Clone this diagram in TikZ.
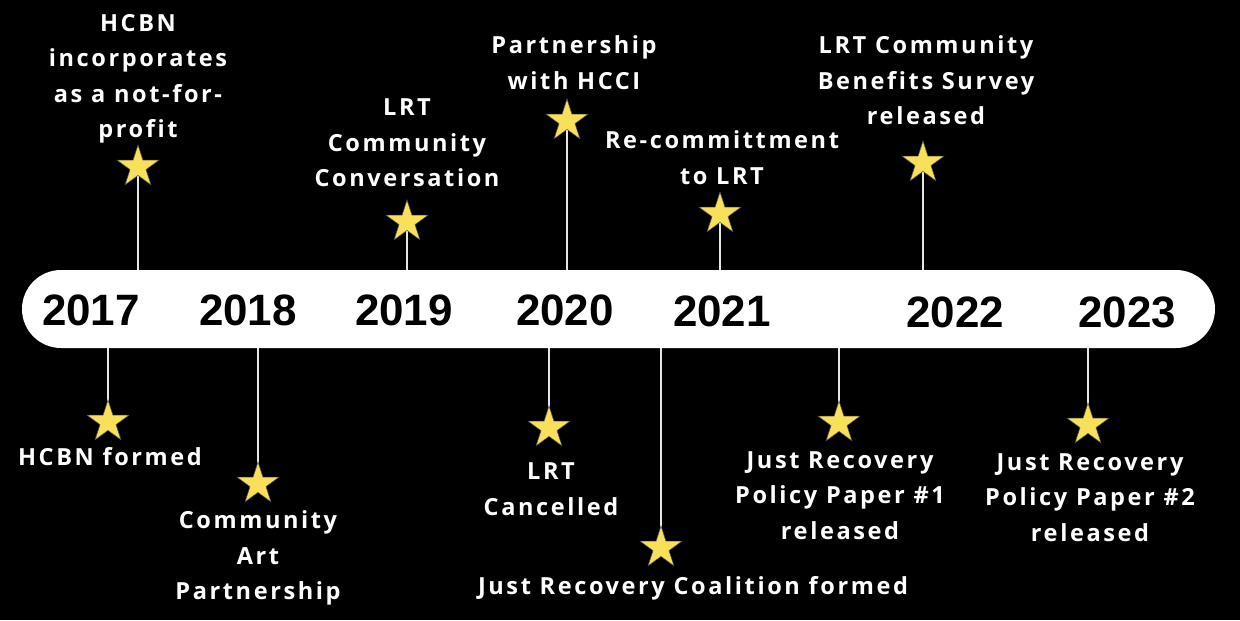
\documentclass[tikz,border=0pt]{standalone}
\usepackage{fontspec}
\setmainfont{Open Sans}[LetterSpace=11, Ligatures={NoCommon}]
\newfontfamily\yrfont{Liberation Sans}
\usepackage{xcolor}
\usepackage{tikz}
\usetikzlibrary{positioning,shapes.geometric,backgrounds}
\definecolor{staryellow}{HTML}{F9E05B}
\definecolor{linegray}{HTML}{E6E6E6}

\begin{document}
\begin{tikzpicture}[
				barbox/.style={draw=none, fill=white, rectangle, rounded corners=0.78cm,
						minimum width=23.86cm, minimum height=1.56cm},
				yr/.style={font=\yrfont\bfseries\fontsize{25}{30}\selectfont, text=black, inner sep=0pt},
				mstar/.style={star, star points=5, star point ratio=2.618, fill=staryellow,
						draw=black!70, line width=0.3pt, minimum size=0.88cm, inner sep=0pt},
				ev/.style={font=\bfseries\fontsize{13.4}{20.2}\selectfont, text=white, align=center, inner sep=0pt},
				stem/.style={draw=linegray, line width=1.1pt},
			]
			\useasboundingbox (0,0) rectangle (24.8,12.4);
			% timeline bar and years
			\node[barbox] (bar) at (12.37, 6.22) {};
			\node[yr] (y17) at (1.82, 6.2)  {2017};
			\node[yr] (y18) at (4.96, 6.2)  {2018};
			\node[yr] (y19) at (8.08, 6.2)  {2019};
			\node[yr] (y20) at (11.3, 6.2)  {2020};
			\node[yr] (y21) at (14.44, 6.18) {2021};
			\node[yr] (y22) at (19.1, 6.16) {2022};
			\node[yr] (y23) at (22.54, 6.16) {2023};
			% stars above the bar
			\node[mstar] (s17t) at (2.76, 9.06)  {};
			\node[mstar] (s19t) at (8.14, 7.96)  {};
			\node[mstar] (s20t) at (11.34, 9.98) {};
			\node[mstar] (s21t) at (14.4, 8.12)  {};
			\node[mstar] (s22t) at (18.46, 9.14) {};
			% stars below the bar
			\node[mstar] (s17b) at (2.16, 3.96)  {};
			\node[mstar] (s18b) at (5.16, 2.72)  {};
			\node[mstar] (s20b) at (10.98, 3.84) {};
			\node[mstar] (s21b) at (13.22, 1.44) {};
			\node[mstar] (s21c) at (16.78, 3.94) {};
			\node[mstar] (s23b) at (21.76, 3.9)  {};
			% event labels
			\node[ev] (t17) at (2.76, 10.82) {HCBN\\incorporates\\as a not-for-\\profit};
			\node[ev] (t19) at (8.14, 9.54)  {LRT\\Community\\Conversation};
			\node[ev] (t20) at (11.48, 11.15) {Partnership\\with HCCI};
			\node[ev] (t21) at (14.44, 9.25) {Re-committment\\to LRT};
			\node[ev] (t22) at (18.52, 10.79) {LRT Community\\Benefits Survey\\released};
			\node[ev] (b17) at (2.2, 3.26)   {HCBN formed};
			\node[ev] (b18) at (5.16, 1.24)  {Community\\Art\\Partnership};
			\node[ev] (b20) at (11.02, 2.62) {LRT\\Cancelled};
			\node[ev] (b21) at (13.86, 0.64) {Just Recovery Coalition formed};
			\node[ev] (b21c) at (16.8, 2.49) {Just Recovery\\Policy Paper \#1\\released};
			\node[ev] (b23) at (21.8, 2.45)  {Just Recovery\\Policy Paper \#2\\released};
			\begin{scope}[on background layer]
				\fill[black] (0,0) rectangle (24.8,12.4);
				\foreach \s in {s17t,s19t,s20t,s21t,s22t}
				\draw[stem] (\s.center) -- (\s |- bar.north);
				\foreach \s in {s17b,s18b,s20b,s21b,s21c,s23b}
				\draw[stem] (\s |- bar.south) -- (\s.center);
			\end{scope}
		\end{tikzpicture}
\end{document}
